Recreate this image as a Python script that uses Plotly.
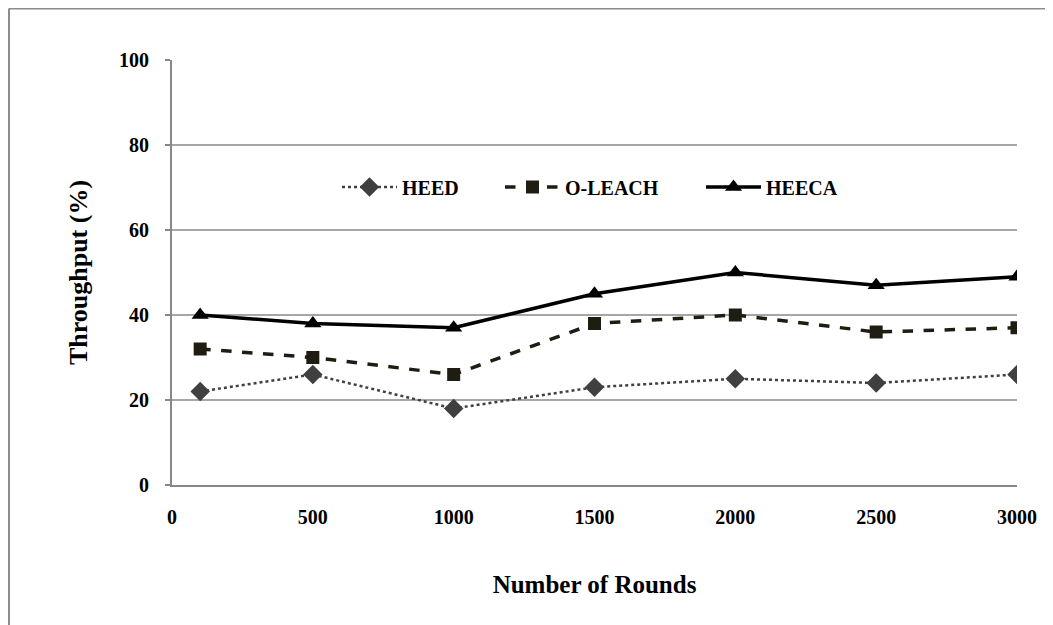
import plotly.graph_objects as go

rounds = [100, 500, 1000, 1500, 2000, 2500, 3000]
heed = [22, 26, 18, 23, 25, 24, 26]
oleach = [32, 30, 26, 38, 40, 36, 37]
heeca = [40, 38, 37, 45, 50, 47, 49]
x_ticks = [0, 500, 1000, 1500, 2000, 2500, 3000]
y_ticks = [0, 20, 40, 60, 80, 100]

FONT = "Liberation Serif"
FS = 20
OFF = 8  # browser body margin offset

# target plot area in window pixels
PL, PR, PT, PB = 172, 1017, 60, 485
W, H = 1053 - OFF, 625 - OFF
ITEMW = 55


def fx(px):
    return (px - PL) / (PR - PL)


def fy(py):
    return (PB - py) / (PB - PT)


fig = go.Figure()
fig.add_trace(go.Scatter(
    x=rounds, y=heed, name="HEED", mode="lines+markers", legend="legend",
    line=dict(color="#404040", width=2.5, dash="dot"),
    marker=dict(symbol="diamond", size=15, color="#404040"),
))
fig.add_trace(go.Scatter(
    x=rounds, y=oleach, name="O-LEACH", mode="lines+markers", legend="legend2",
    line=dict(color="#1f1c12", width=3.5, dash="dash"),
    marker=dict(symbol="square", size=13, color="#1f1c12"),
))
fig.add_trace(go.Scatter(
    x=rounds, y=heeca, name="HEECA", mode="lines+markers", legend="legend3",
    line=dict(color="#000000", width=3.5),
    marker=dict(symbol="triangle-up", size=15, color="#000000"),
))

legfont = dict(family=FONT, size=FS, color="black", weight="bold")


def leg(text_px):
    return dict(orientation="h", x=fx(text_px - (ITEMW + 12)), y=fy(187), xanchor="left",
                yanchor="middle", font=legfont, bgcolor="rgba(0,0,0,0)",
                itemwidth=ITEMW)


fig.update_layout(
    width=W, height=H,
    margin=dict(l=PL - OFF, r=W - (PR - OFF), t=PT - OFF, b=H - (PB - OFF), autoexpand=False),
    paper_bgcolor="white", plot_bgcolor="white",
    font=dict(family=FONT, size=FS, color="black", weight="bold"),
    showlegend=True,
    legend=leg(404),
    legend2=leg(567),
    legend3=leg(768),
    xaxis=dict(
        range=[0, 3000], tickvals=x_ticks, ticktext=[str(v) for v in x_ticks],
        showgrid=False, zeroline=False, showline=True, linecolor="#878787", linewidth=2,
        ticks="", ticklabelstandoff=13,
        tickfont=dict(family=FONT, size=FS, color="black", weight="bold"),
        title=dict(text="Number of Rounds", standoff=48,
                   font=dict(family=FONT, size=25, color="black", weight="bold")),
    ),
    yaxis=dict(
        range=[0, 100], tickvals=y_ticks,
        showgrid=True, gridcolor="#a6a6a6", gridwidth=1.5,
        zeroline=False, showline=True, linecolor="#878787", linewidth=2,
        ticks="outside", ticklen=5, tickcolor="#878787", tickwidth=1.5,
        ticklabelstandoff=12,
        tickfont=dict(family=FONT, size=FS, color="black", weight="bold"),
        title=dict(text="Throughput (%)", standoff=24,
                   font=dict(family=FONT, size=26, color="black", weight="bold")),
    ),
)

# outer frame lines (top and left), as in the reference image
fig.add_shape(type="line", xref="paper", yref="paper",
              x0=fx(OFF + 1), x1=fx(1060), y0=fy(8.5), y1=fy(8.5),
              line=dict(color="#8c8c8c", width=2))
fig.add_shape(type="line", xref="paper", yref="paper",
              x0=fx(OFF + 1), x1=fx(OFF + 1), y0=fy(8.5), y1=fy(630),
              line=dict(color="#8c8c8c", width=2))

fig.write_html("out.html")
